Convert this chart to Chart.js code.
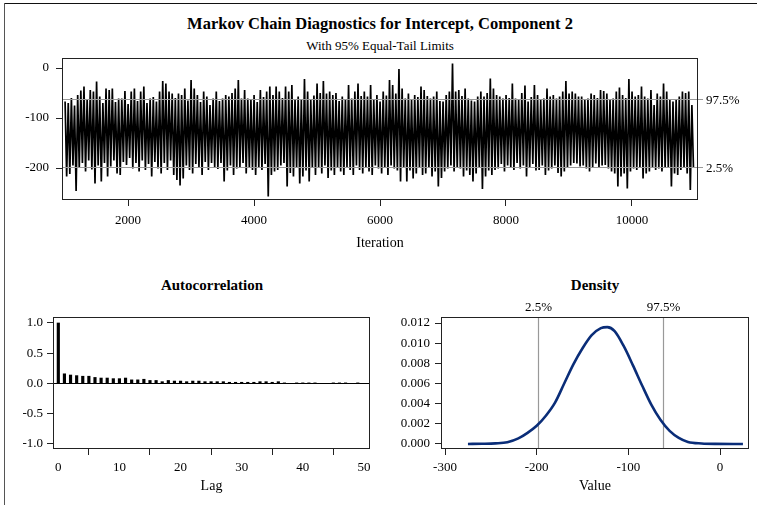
<!DOCTYPE html>
<html lang="en">
<head>
<meta charset="UTF-8">
<title>Markov Chain Diagnostics</title>
<style>
  body { margin: 0; background: #fff; }
  #pagina { position: relative; width: 757px; height: 505px; overflow: hidden; font-family: "Liberation Serif", "Times New Roman", serif; color: #000; }
  .linha-topo { position: absolute; left: 4px; top: 3px; width: 753px; border-top: 1.5px solid #111; }
  .linha-esq { position: absolute; left: 4px; top: 3px; height: 502px; border-left: 1px solid #555; }
  .texto { position: absolute; white-space: nowrap; line-height: 1; transform: translateX(-50%); }
  .titulo { font-weight: bold; font-size: 16.5px; top: 16px; left: 380px; }
  .subtitulo { font-size: 13px; top: 39px; left: 380px; }
  .painel { font-weight: bold; font-size: 15px; top: 278px; }
  canvas { position: absolute; }
</style>
</head>
<body>
<div id="pagina">
  <div class="linha-topo"></div>
  <div class="linha-esq"></div>
  <div class="texto titulo">Markov Chain Diagnostics for Intercept, Component 2</div>
  <div class="texto subtitulo">With 95% Equal-Tail Limits</div>
  <div class="texto painel" style="left:212px">Autocorrelation</div>
  <div class="texto painel" style="left:595px">Density</div>
  <canvas id="traco" width="757" height="262" style="left:0;top:0"></canvas>
  <canvas id="autocorr" width="380" height="205" style="left:0;top:300px"></canvas>
  <canvas id="densidade" width="377" height="205" style="left:380px;top:300px"></canvas>
</div>

<script src="https://cdn.jsdelivr.net/npm/chart.js"></script>
<script>
  // trace: upper and lower envelope of the chain (one pair per ~50 iterations)
  const traceHigh = [
    -67, -70, -60, -75, -54, -45, -37, -62, -44, -47,
    -27, -57, -70, -41, -44, -41, -68, -61, -61, -46,
    -72, -47, -41, -66, -47, -37, -70, -61, -58, -67,
    -47, -26, -31, -47, -51, -60, -51, -54, -41, -65,
    -24, -41, -54, -68, -47, -57, -74, -61, -47, -66,
    -61, -54, -57, -50, -41, -24, -61, -44, -61, -64,
    -54, -68, -44, -58, -47, -37, -54, -37, -47, -60,
    -37, -47, -34, -62, -57, -64, -22, -47, -64, -55,
    -31, -50, -26, -51, -47, -54, -50, -66, -57, -62,
    -34, -61, -47, -31, -56, -47, -57, -34, -64, -54,
    -67, -47, -55, -24, -34, -51, -2, -41, -61, -51,
    -64, -54, -58, -37, -44, -56, -61, -57, -47, -66,
    -67, -54, -47, 9, -47, -44, -56, -41, -61, -65,
    -67, -57, -47, -57, -50, -21, -41, -54, -57, -61,
    -54, -60, -31, -61, -64, -50, -35, -67, -58, -34,
    -54, -64, -61, -41, -57, -54, -61, -57, -47, -26,
    -51, -47, -51, -57, -57, -64, -61, -51, -54, -60,
    -44, -46, -51, -64, -61, -47, -39, -54, -60, -22,
    -47, -57, -54, -37, -57, -61, -44, -74, -51, -57,
    -31, -47, -64, -67, -64, -57, -47, -50, -47, -74
  ];
  const traceLow = [
    -217, -212, -195, -246, -200, -190, -207, -185, -203, -231,
    -195, -227, -190, -217, -197, -185, -211, -214, -188, -194,
    -180, -201, -190, -207, -185, -204, -192, -217, -188, -201,
    -211, -190, -204, -185, -214, -224, -235, -221, -195, -204,
    -211, -192, -198, -214, -188, -204, -190, -198, -202, -190,
    -227, -205, -195, -214, -201, -200, -190, -211, -200, -204,
    -214, -198, -204, -192, -257, -214, -207, -204, -195, -190,
    -237, -210, -217, -200, -231, -217, -205, -227, -200, -214,
    -198, -211, -195, -220, -205, -214, -200, -207, -214, -198,
    -204, -214, -195, -204, -211, -200, -207, -214, -195, -201,
    -211, -200, -214, -195, -201, -205, -227, -200, -227, -205,
    -221, -211, -198, -214, -211, -200, -217, -207, -237, -220,
    -207, -201, -195, -207, -200, -201, -217, -205, -214, -227,
    -211, -200, -242, -217, -205, -214, -204, -201, -192, -207,
    -195, -198, -204, -190, -201, -195, -217, -200, -192, -205,
    -204, -195, -214, -205, -201, -195, -210, -217, -207, -200,
    -195, -190, -191, -197, -195, -201, -207, -198, -191, -200,
    -195, -194, -201, -207, -211, -237, -217, -211, -241, -207,
    -201, -204, -200, -221, -211, -207, -198, -204, -201, -207,
    -200, -198, -237, -211, -214, -204, -200, -211, -244, -200
  ];
  const firstIteration = 1001;
  const iterationStep = 25;
  const iterationTicks = [2000, 4000, 6000, 8000, 10000];
  const traceTicks = [0, -100, -200];

  // 95% equal-tail limits
  const limits = [-198.5, -62.5];
  const limitLabels = ['2.5%', '97.5%'];

  // autocorrelation
  const lags = [
    0, 1, 2, 3, 4, 5, 6, 7, 8, 9,
    10, 11, 12, 13, 14, 15, 16, 17, 18, 19,
    20, 21, 22, 23, 24, 25, 26, 27, 28, 29,
    30, 31, 32, 33, 34, 35, 36, 37, 38, 39,
    40, 41, 42, 43, 44, 45, 46, 47, 48, 49
  ];
  const acf = [
    1.00, 0.16, 0.14, 0.13, 0.12, 0.12, 0.10, 0.09, 0.09, 0.08,
    0.08, 0.09, 0.06, 0.06, 0.07, 0.05, 0.05, 0.03, 0.05, 0.04,
    0.04, 0.03, 0.04, 0.04, 0.03, 0.03, 0.03, 0.03, 0.02, 0.02,
    0.02, 0.02, 0.02, 0.03, 0.03, 0.02, 0.03, 0.01, 0.00, 0.01,
    0.01, 0.01, 0.01, 0.00, 0.00, 0.01, 0.01, 0.01, 0.00, 0.01
  ];
  const lagTicks = [0, 10, 20, 30, 40, 50];
  const acfTicks = [1, 0.5, 0, -0.5, -1];

  // posterior density
  const densityX = [-275, -260, -245, -232, -220, -210, -200, -190, -180, -170, -160, -150, -140, -130, -123, -115, -105, -95, -85, -75, -65, -55, -45, -35, -20, -5, 25];
  const densityY = [0.0000, 0.00002, 0.00006, 0.00017, 0.00055, 0.0011, 0.0018, 0.0028, 0.0041, 0.0060, 0.0079, 0.0095, 0.0108, 0.0115, 0.0116, 0.0112, 0.0097, 0.0078, 0.0058, 0.0039, 0.0024, 0.0013, 0.0006, 0.0002, 0.00005, 0.00001, 0.0];
  const valueTicks = [-300, -200, -100, 0];
  const densityTicks = [0, 0.002, 0.004, 0.006, 0.008, 0.010, 0.012];

  const fonte = { family: '"Liberation Serif", "Times New Roman", serif', size: 13 };
  const fonteTitulo = { family: '"Liberation Serif", "Times New Roman", serif', size: 14 };

  // box around the plot area
  const moldura = {
    id: 'moldura',
    afterDraw(chart) {
      const { ctx, chartArea: a } = chart;
      ctx.save();
      ctx.strokeStyle = '#222';
      ctx.lineWidth = 1;
      ctx.strokeRect(Math.round(a.left) + 0.5, Math.round(a.top) + 0.5, Math.round(a.right - a.left) - 1, Math.round(a.bottom - a.top) - 1);
      ctx.restore();
    }
  };

  function fixarTicks(valores) {
    return axis => { axis.ticks = valores.map(v => ({ value: v })); };
  }

  function eixo(min, max, ticks, extra) {
    return Object.assign({
      type: 'linear',
      min: min,
      max: max,
      afterBuildTicks: fixarTicks(ticks),
      border: { display: false },
      grid: { drawOnChartArea: false, color: '#222', tickLength: 6 },
      ticks: { color: '#000', font: fonte, maxRotation: 0, autoSkip: false }
    }, extra);
  }

  // trace
  const tracePoints = [];
  traceHigh.forEach((v, k) => {
    tracePoints.push({ x: firstIteration + iterationStep * 2 * k, y: v });
    tracePoints.push({ x: firstIteration + iterationStep * (2 * k + 1), y: traceLow[k] });
  });

  const limitesTraco = {
    id: 'limitesTraco',
    afterDatasetsDraw(chart) {
      const { ctx, chartArea: a, scales: { y } } = chart;
      ctx.save();
      limits.forEach((v, i) => {
        const py = Math.round(y.getPixelForValue(v)) + 0.5;
        ctx.strokeStyle = '#999';
        ctx.lineWidth = 1;
        ctx.beginPath();
        ctx.moveTo(a.left, py);
        ctx.lineTo(a.right + 5, py);
        ctx.stroke();
        ctx.fillStyle = '#000';
        ctx.font = '13px "Liberation Serif"';
        ctx.textBaseline = 'middle';
        ctx.fillText(limitLabels[i], a.right + 8, py + 1);
      });
      ctx.restore();
    }
  };

  new Chart(document.getElementById('traco'), {
    type: 'line',
    data: {
      datasets: [{
        data: tracePoints,
        borderColor: '#000',
        borderWidth: 1.7,
        borderJoinStyle: 'bevel',
        pointRadius: 0,
        tension: 0
      }]
    },
    options: {
      responsive: false,
      animation: false,
      layout: { padding: { left: 0, top: 58, right: 59, bottom: 0 } },
      plugins: { legend: { display: false }, tooltip: { enabled: false } },
      scales: {
        x: eixo(952, 11048, iterationTicks, {
          afterFit: s => { s.height = 62; },
          ticks: { color: '#000', font: fonte, maxRotation: 0, autoSkip: false, padding: 7, callback: v => String(v) },
          title: { display: true, text: 'Iteration', color: '#000', font: fonteTitulo, padding: { top: 0, bottom: 10 } }
        }),
        y: eixo(-264, 20, traceTicks, {
          afterFit: s => { s.width = 62; },
          ticks: { color: '#000', font: fonte, autoSkip: false, padding: 7 }
        })
      }
    },
    plugins: [moldura, limitesTraco]
  });

  // autocorrelation
  const linhaZero = {
    id: 'linhaZero',
    afterDatasetsDraw(chart) {
      const { ctx, chartArea: a, scales: { y } } = chart;
      const py = Math.round(y.getPixelForValue(0)) + 0.5;
      ctx.save();
      ctx.strokeStyle = '#000';
      ctx.lineWidth = 1;
      ctx.beginPath();
      ctx.moveTo(a.left, py);
      ctx.lineTo(a.right, py);
      ctx.stroke();
      ctx.restore();
    }
  };

  new Chart(document.getElementById('autocorr'), {
    type: 'bar',
    data: {
      datasets: [{
        data: lags.map((l, i) => ({ x: l, y: acf[i] })),
        backgroundColor: '#000',
        borderWidth: 0,
        barThickness: 2.5
      }]
    },
    options: {
      responsive: false,
      animation: false,
      layout: { padding: { left: 0, top: 17, right: 10, bottom: 0 } },
      plugins: { legend: { display: false }, tooltip: { enabled: false } },
      scales: {
        x: eixo(-0.87, 51, lagTicks, {
          afterFit: s => { s.height = 56; },
          offset: false,
          ticks: { color: '#000', font: fonte, maxRotation: 0, autoSkip: false, padding: 5 },
          title: { display: true, text: 'Lag', color: '#000', font: fonteTitulo, padding: { top: 0, bottom: 10 } }
        }),
        y: eixo(-1.083, 1.099, acfTicks, {
          afterFit: s => { s.width = 53; },
          ticks: { color: '#000', font: fonte, autoSkip: false, padding: 4, callback: v => v.toFixed(1) }
        })
      }
    },
    plugins: [moldura, linhaZero]
  });

  // density
  const limitesDensidade = {
    id: 'limitesDensidade',
    beforeDatasetsDraw(chart) {
      const { ctx, chartArea: a, scales: { x } } = chart;
      ctx.save();
      limits.forEach((v, i) => {
        const px = Math.round(x.getPixelForValue(v)) + 0.5;
        ctx.strokeStyle = '#999';
        ctx.lineWidth = 1.2;
        ctx.beginPath();
        ctx.moveTo(px, a.top);
        ctx.lineTo(px, a.bottom);
        ctx.stroke();
        ctx.fillStyle = '#000';
        ctx.font = '13px "Liberation Serif"';
        ctx.textAlign = 'center';
        ctx.textBaseline = 'middle';
        ctx.fillText(limitLabels[i], px, a.top - 9);
      });
      ctx.restore();
    }
  };

  new Chart(document.getElementById('densidade'), {
    type: 'line',
    data: {
      datasets: [{
        data: densityX.map((v, i) => ({ x: v, y: densityY[i] })),
        borderColor: '#0a2d78',
        borderWidth: 2.6,
        pointRadius: 0,
        cubicInterpolationMode: 'monotone'
      }]
    },
    options: {
      responsive: false,
      animation: false,
      layout: { padding: { left: 0, top: 17, right: 8, bottom: 0 } },
      plugins: { legend: { display: false }, tooltip: { enabled: false } },
      scales: {
        x: eixo(-304.4, 31.6, valueTicks, {
          afterFit: s => { s.height = 56; },
          ticks: { color: '#000', font: fonte, maxRotation: 0, autoSkip: false, padding: 5 },
          title: { display: true, text: 'Value', color: '#000', font: fonteTitulo, padding: { top: 0, bottom: 10 } }
        }),
        y: eixo(-0.0005, 0.0126, densityTicks, {
          afterFit: s => { s.width = 61; },
          ticks: { color: '#000', font: fonte, autoSkip: false, padding: 5, callback: v => v.toFixed(3) }
        })
      }
    },
    plugins: [moldura, limitesDensidade]
  });
</script>
</body>
</html>
